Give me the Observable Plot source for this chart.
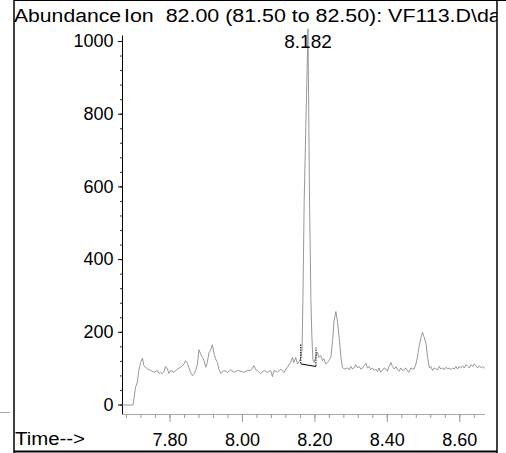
<!DOCTYPE html>
<html><head><meta charset="utf-8">
<script src="https://cdn.jsdelivr.net/npm/d3@7"></script>
<script src="https://cdn.jsdelivr.net/npm/@observablehq/plot@0.6"></script>
<style>body{margin:0;background:#fff;} svg{display:block}</style>
</head><body><div id="chart"></div>
<script>
// ---- data ----
const time = [7.669, 7.698, 7.705, 7.710, 7.714, 7.719, 7.724, 7.728, 7.738, 7.747,
  7.756, 7.765, 7.770, 7.774, 7.779, 7.783, 7.788, 7.793, 7.797, 7.802,
  7.811, 7.816, 7.820, 7.830, 7.839, 7.843, 7.848, 7.852, 7.857, 7.862,
  7.866, 7.871, 7.876, 7.880, 7.885, 7.890, 7.894, 7.899, 7.903, 7.908,
  7.912, 7.917, 7.922, 7.926, 7.931, 7.935, 7.940, 7.949, 7.959, 7.968,
  7.977, 7.986, 7.996, 8.004, 8.014, 8.023, 8.032, 8.037, 8.041, 8.050,
  8.060, 8.069, 8.078, 8.083, 8.087, 8.097, 8.106, 8.115, 8.124, 8.133,
  8.138, 8.142, 8.147, 8.152, 8.156,
  8.1615, 8.1645, 8.167, 8.1705, 8.181, 8.1853, 8.189, 8.1915, 8.1945,
  8.198, 8.202, 8.207, 8.211, 8.216, 8.221, 8.225, 8.230, 8.235, 8.239,
  8.244, 8.249, 8.253, 8.258, 8.262, 8.267, 8.272, 8.276, 8.281, 8.290,
  8.295, 8.299, 8.304, 8.308, 8.313, 8.318, 8.322, 8.327, 8.332, 8.336,
  8.341, 8.345, 8.350, 8.354, 8.359, 8.364, 8.368, 8.373, 8.377, 8.382,
  8.387, 8.391, 8.396, 8.400, 8.405, 8.410, 8.414, 8.419, 8.424, 8.428,
  8.433, 8.437, 8.442, 8.447, 8.451, 8.456, 8.460, 8.465, 8.470, 8.474,
  8.479, 8.483, 8.488, 8.493, 8.497, 8.502, 8.507, 8.511, 8.516, 8.520,
  8.525, 8.529, 8.534, 8.539, 8.543, 8.548, 8.553, 8.557, 8.562, 8.566,
  8.571, 8.575, 8.580, 8.585, 8.589, 8.594, 8.598, 8.603, 8.608, 8.612,
  8.617, 8.622, 8.626, 8.631, 8.636, 8.640, 8.645, 8.649, 8.654, 8.659,
  8.663, 8.668];
const abundance = [0, 0, 49, 63, 95, 117, 129, 108, 99, 95,
  90, 95, 87, 90, 86, 90, 106, 99, 87, 95,
  90, 95, 99, 104, 113, 122, 115, 104, 90, 81,
  84, 95, 113, 152, 140, 131, 122, 104, 117, 145,
  150, 166, 140, 127, 117, 99, 87, 95, 90, 97,
  90, 95, 93, 90, 95, 95, 108, 97, 95, 86,
  95, 90, 95, 78, 95, 90, 99, 90, 104, 117,
  131, 117, 131, 113, 119,
  130, 150, 290, 560, 1035, 560, 290, 195, 125,
  117, 131, 145, 131, 136, 122, 127, 113, 117, 122,
  131, 177, 232, 257, 232, 186, 131, 104, 99, 102,
  97, 106, 99, 102, 111, 102, 106, 99, 102, 108,
  115, 102, 106, 97, 102, 95, 99, 92, 102, 90,
  95, 102, 99, 93, 106, 117, 106, 99, 106, 97,
  93, 102, 95, 97, 102, 93, 90, 102, 99, 99,
  113, 131, 163, 186, 200, 186, 168, 131, 102, 106,
  95, 102, 99, 97, 106, 99, 102, 97, 104, 99,
  102, 97, 102, 99, 106, 99, 106, 102, 108, 102,
  111, 106, 102, 111, 106, 113, 108, 102, 108, 102,
  106, 102];
const yMajorTicks = [0, 200, 400, 600, 800, 1000];
const yTickLabels = ["0", "200", "400", "600", "800", "1000"];
const yMinorTicks = [0, 40, 80, 120, 160, 200, 240, 280, 320, 360, 400, 440, 480, 520, 560, 600, 640, 680, 720, 760, 800, 840, 880, 920, 960, 1000];
const xMajorTicks = [7.80, 8.00, 8.20, 8.40, 8.60];
const xTickLabels = ["7.80", "8.00", "8.20", "8.40", "8.60"];
const xMinorTicks = [7.68, 7.72, 7.76, 7.80, 7.84, 7.88, 7.92, 7.96, 8.00, 8.04, 8.08, 8.12, 8.16, 8.20, 8.24, 8.28, 8.32, 8.36, 8.40, 8.44, 8.48, 8.52, 8.56, 8.60, 8.64];
const peakTime = [8.181];
const peakLabel = ["8.182"];
const baselineStart = [8.161, 113];
const baselineEnd = [8.203, 106];
const markerTop = [168, 157];
const yAxisLabel = "Abundance";
const titleText = "Ion  82.00 (81.50 to 82.50): VF113.D\\data.ms";
const xAxisLabel = "Time-->";

const xDomain = [7.669, 8.671];
const yDomain = [-26.1, 1044];

const trace = time.map((t, i) => ({t, v: abundance[i]}));
const font = "'Liberation Sans', Arial, Helvetica, sans-serif";
const pick = (ticks, labels) => d => labels[ticks.findIndex(m => Math.abs(m - d) < 1e-9)];

const svg = Plot.plot({
  width: 506, height: 453,
  marginLeft: 122, marginRight: 21, marginTop: 25, marginBottom: 39,
  x: {domain: xDomain},
  y: {domain: yDomain},
  style: {fontFamily: font, fontSize: "18px", color: "black", background: "white", overflow: "visible"},
  marks: [
    Plot.ruleY([yDomain[0]], {x1: xDomain[0], x2: xDomain[1], stroke: "#aaa"}),
    Plot.axisX({ticks: xMinorTicks, anchor: "bottom", tickSize: 4, tickFormat: () => "", stroke: "#999", label: null}),
    Plot.axisX({ticks: xMajorTicks, anchor: "bottom", tickSize: 8, tickPadding: 11, tickFormat: pick(xMajorTicks, xTickLabels), stroke: "#999", fill: "black", label: null}),
    Plot.axisY({ticks: yMinorTicks, anchor: "left", tickSize: 2, tickFormat: () => "", stroke: "#333", label: null}),
    Plot.axisY({ticks: yMajorTicks, anchor: "left", tickSize: 4, tickPadding: 5, tickFormat: pick(yMajorTicks, yTickLabels), stroke: "#000", fill: "black", label: null}),
    Plot.ruleX([xDomain[0]], {y1: yDomain[0], y2: 1015, stroke: "black"}),
    Plot.line(trace, {x: "t", y: "v", stroke: "#8c8c8c", strokeWidth: 0.9}),
    Plot.link([0], {x1: baselineStart[0], y1: baselineStart[1], x2: baselineEnd[0], y2: baselineEnd[1], stroke: "black"}),
    Plot.ruleX([0, 1], {x: i => [baselineStart, baselineEnd][i][0], y1: i => [baselineStart, baselineEnd][i][1], y2: i => markerTop[i], stroke: "black", strokeDasharray: "1.5,1"}),
    Plot.text(peakLabel, {x: peakTime[0], y: 1000, text: d => d, fontSize: 19, fill: "black"})
  ]
});
document.getElementById("chart").appendChild(svg);

// frame and header text
const s = d3.select(svg);
s.append("defs").append("clipPath").attr("id", "clipTitle")
  .append("rect").attr("x", 14).attr("y", 0).attr("width", 483).attr("height", 40);
const g = s.append("g").attr("font-family", font).attr("fill", "black")
  .attr("text-anchor", "start").attr("font-size", 18);
g.append("text").attr("x", 14).attr("y", 22)
  .attr("textLength", 107).attr("lengthAdjust", "spacingAndGlyphs").text(yAxisLabel);
g.append("g").attr("clip-path", "url(#clipTitle)")
  .append("text").attr("x", 124).attr("y", 22)
  .attr("transform", "translate(124,0) scale(1.19,1) translate(-124,0)").text(titleText);
g.append("text").attr("x", 15).attr("y", 445)
  .attr("textLength", 70).attr("lengthAdjust", "spacingAndGlyphs").text(xAxisLabel);
const b = s.append("g").attr("stroke", "black").attr("fill", "none");
b.append("line").attr("x1", 14).attr("x2", 14).attr("y1", 0).attr("y2", 453).attr("stroke-width", 1.5);
b.append("line").attr("x1", 14).attr("x2", 506).attr("y1", 0.5).attr("y2", 0.5);
b.append("line").attr("x1", 497).attr("x2", 497).attr("y1", 0).attr("y2", 453).attr("stroke-width", 1.5);
b.append("line").attr("x1", 14).attr("x2", 497).attr("y1", 451.5).attr("y2", 451.5).attr("stroke-width", 2);
b.append("line").attr("x1", 0).attr("x2", 10).attr("y1", 412.5).attr("y2", 412.5).attr("stroke", "#aaa");
</script>
</body></html>
